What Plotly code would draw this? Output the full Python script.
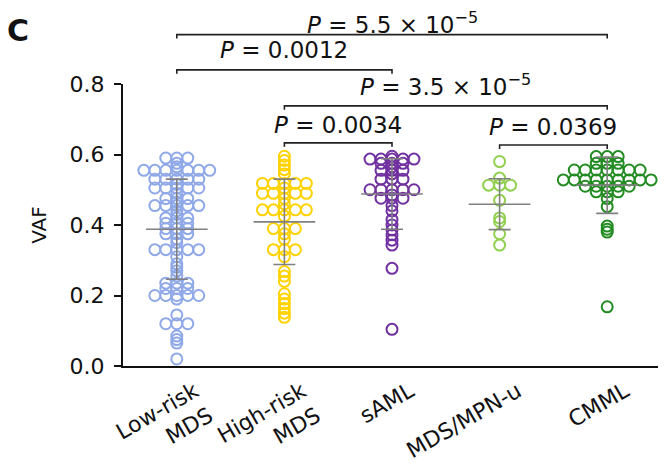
import plotly.graph_objects as go

# ---------------- data ----------------
CATEGORIES = ["Low-risk<br>MDS", "High-risk<br>MDS", "sAML", "MDS/MPN-u", "CMML"]
COLORS = ["#8fa8e8", "#ffd200", "#7030a0", "#92d050", "#228b22"]

LOW_RISK_MDS = [0.59, 0.59, 0.59, 0.575, 0.565,
                0.555, 0.555, 0.555, 0.555, 0.555, 0.555, 0.555,
                0.53, 0.53, 0.53, 0.53, 0.53, 0.515,
                0.505, 0.505, 0.505, 0.505, 0.505, 0.49,
                0.475, 0.475, 0.475, 0.465,
                0.455, 0.455, 0.455, 0.455, 0.455, 0.44, 0.43,
                0.42, 0.42, 0.42, 0.405, 0.405, 0.405,
                0.39, 0.39, 0.39, 0.375, 0.375, 0.375, 0.36, 0.35,
                0.33, 0.33, 0.33, 0.33, 0.33, 0.31,
                0.29, 0.28, 0.27, 0.255,
                0.235, 0.235, 0.235, 0.22, 0.22, 0.22,
                0.20, 0.20, 0.20, 0.20, 0.20, 0.19,
                0.145, 0.12, 0.12, 0.12, 0.085, 0.075, 0.065, 0.02]
HIGH_RISK_MDS = [0.595, 0.583, 0.57, 0.557, 0.545,
                 0.518, 0.518, 0.518, 0.518, 0.518, 0.505,
                 0.49, 0.49, 0.49, 0.49, 0.49, 0.475, 0.46,
                 0.443, 0.443, 0.443, 0.443, 0.443, 0.425,
                 0.39, 0.39, 0.39, 0.375, 0.36,
                 0.33, 0.33, 0.33, 0.31,
                 0.268, 0.255, 0.24,
                 0.205, 0.19, 0.177, 0.163, 0.15, 0.138]
SAML = [0.595, 0.587, 0.587, 0.587, 0.587, 0.587,
        0.575, 0.575, 0.575, 0.565, 0.555, 0.555, 0.555, 0.545,
        0.53, 0.53, 0.53,
        0.5, 0.5, 0.5, 0.5, 0.5, 0.485,
        0.476, 0.476, 0.476, 0.455, 0.44,
        0.415, 0.40, 0.386, 0.372, 0.357, 0.343,
        0.277, 0.104]
MDS_MPN_U = [0.58, 0.533, 0.513, 0.513, 0.513, 0.47, 0.42, 0.41, 0.375, 0.343]
CMML = [0.594, 0.594, 0.594, 0.575, 0.575, 0.575,
        0.556, 0.556, 0.556, 0.556, 0.556, 0.556, 0.556,
        0.528, 0.528, 0.528, 0.528, 0.528, 0.528, 0.528, 0.528, 0.528,
        0.51, 0.51, 0.51, 0.51, 0.51,
        0.494, 0.494, 0.494, 0.475, 0.452,
        0.397, 0.388, 0.38, 0.168]
GROUPS = [LOW_RISK_MDS, HIGH_RISK_MDS, SAML, MDS_MPN_U, CMML]

MEANS = [0.388, 0.409, 0.488, 0.459, 0.513]
SDS = [0.142, 0.121, 0.100, 0.072, 0.080]

Y_TICKS = [0.0, 0.2, 0.4, 0.6, 0.8]
Y_TICK_TEXT = ["0.0", "0.2", "0.4", "0.6", "0.8"]

P_TEXT = ["<i>P</i> = 5.5 × 10<sup>−5</sup>", "<i>P</i> = 0.0012",
          "<i>P</i> = 3.5 × 10<sup>−5</sup>", "<i>P</i> = 0.0034", "<i>P</i> = 0.0369"]
P_LEFT = [0, 0, 1, 1, 3]
P_RIGHT = [4, 2, 4, 2, 4]
P_LEVEL = [0.940, 0.840, 0.738, 0.633, 0.627]   # bracket heights, VAF units

# layout-only: vertical nudge (px) of each P label relative to its bracket
P_LABEL_SHIFT = [-5, 5, 4, 3, 3]

Y_MAX = 0.8
STEP = 0.102  # horizontal spacing between tied points (category units)

fig = go.Figure()

for gi, vals in enumerate(GROUPS):
    counts = {}
    for v in vals:
        counts[v] = counts.get(v, 0) + 1
    xs, ys = [], []
    for v, n in counts.items():
        for i in range(n):
            xs.append(gi + (i - (n - 1) / 2) * STEP)
            ys.append(v)
    fig.add_trace(go.Scatter(
        x=xs, y=ys, mode="markers", showlegend=False, cliponaxis=False,
        marker=dict(symbol="circle-open", size=11, color=COLORS[gi],
                    line=dict(width=2, color=COLORS[gi])),
        hoverinfo="skip"))

fig.add_trace(go.Scatter(
    x=list(range(len(CATEGORIES))), y=MEANS, mode="markers", showlegend=False,
    cliponaxis=False,
    marker=dict(symbol="line-ew-open", size=44, color="#808080",
                line=dict(width=1.6, color="#808080")),
    error_y=dict(type="data", array=SDS, visible=True, color="#808080",
                 thickness=1.6, width=11)))

shapes = []
annotations = []
TICK = 0.014
for t, l, r, lv, sh in zip(P_TEXT, P_LEFT, P_RIGHT, P_LEVEL, P_LABEL_SHIFT):
    yp = lv / Y_MAX
    shapes.append(dict(type="path", xref="x", yref="paper",
                       path=f"M {l},{yp - TICK} L {l},{yp} L {r},{yp} L {r},{yp - TICK}",
                       line=dict(color="#222222", width=1.6)))
    annotations.append(dict(x=(l + r) / 2, y=yp, xref="x", yref="paper", text=t,
                            showarrow=False, yanchor="bottom", yshift=sh,
                            font=dict(family="DejaVu Sans", size=23, color="#111111")))

annotations.append(dict(x=-0.195, y=1.19, xref="paper", yref="paper", text="<b>C</b>",
                        showarrow=False, xanchor="center", yanchor="middle",
                        font=dict(family="DejaVu Sans", size=30, color="#111111")))

# The page adds an 8px body margin, so the figure is 8px smaller than the window.
fig.update_layout(
    width=658, height=465,
    margin=dict(l=115, r=5, t=76, b=107),
    paper_bgcolor="white", plot_bgcolor="white",
    shapes=shapes, annotations=annotations,
    xaxis=dict(range=[-0.5, 4.5], tickmode="array", tickvals=list(range(len(CATEGORIES))),
               ticktext=CATEGORIES, tickangle=-30, showline=True, linecolor="#111111",
               linewidth=2, ticks="", showgrid=False, zeroline=False, automargin=False,
               ticklabelshift=18, ticklabelstandoff=2,
               tickfont=dict(family="DejaVu Sans", size=22, color="#111111")),
    yaxis=dict(range=[0, Y_MAX], tickmode="array", tickvals=Y_TICKS, ticktext=Y_TICK_TEXT,
               showline=True, linecolor="#111111", linewidth=2, ticks="outside",
               ticklen=7, tickwidth=1.6, tickcolor="#111111", showgrid=False,
               zeroline=False, ticklabelstandoff=5, automargin=False,
               tickfont=dict(family="DejaVu Sans", size=22, color="#111111"),
               title=dict(text="VAF", standoff=18,
                          font=dict(family="DejaVu Sans", size=20, color="#111111"))),
)

fig.write_html("out.html")
